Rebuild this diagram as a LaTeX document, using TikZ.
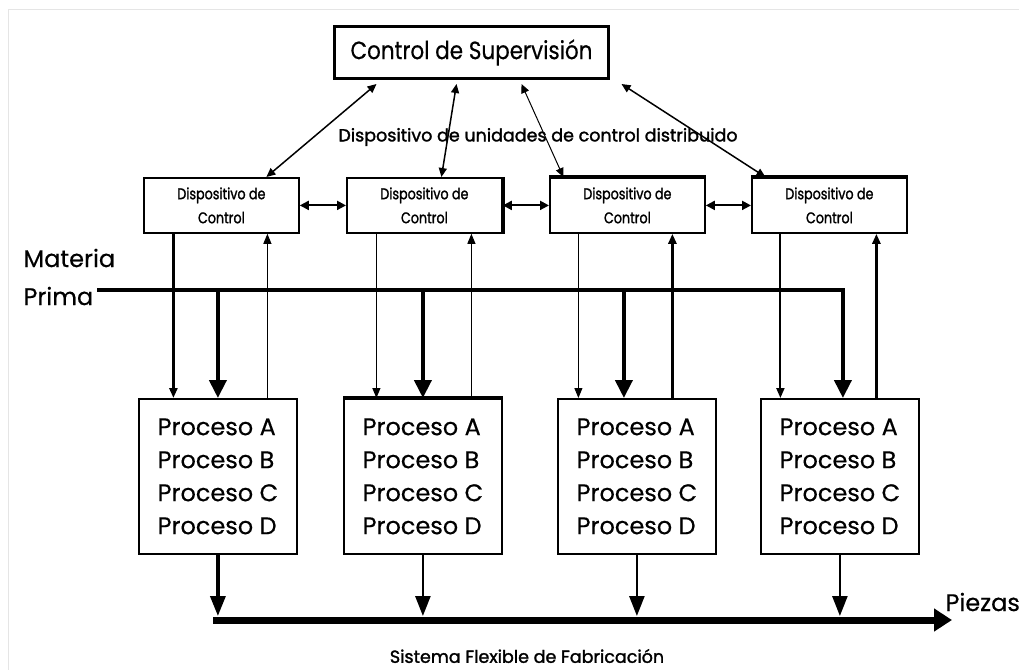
\documentclass[tikz,border=0pt]{standalone}
\usepackage{fontspec}
\setmainfont{Poppins}[FakeBold=0.4]
\newfontfamily\narrowfont{Poppins}[FakeStretch=0.86, FakeBold=0.4]
\newfontfamily\heavyfont{Poppins}[FakeBold=1.6]
\newfontfamily\narrowheavy{Poppins}[FakeStretch=0.82, FakeBold=1.4]
\usetikzlibrary{arrows.meta}

\begin{document}
\begin{tikzpicture}[
  supbox/.style={draw, line width=3pt, minimum width=274pt, minimum height=52pt,
    anchor=north west, font=\narrowfont\fontsize{25}{30}\selectfont},
  devbox/.style={draw, line width=1.8pt, minimum width=155pt, minimum height=55pt,
    anchor=north west, align=center, font=\narrowheavy\fontsize{15.5}{24}\selectfont},
  procbox/.style={draw, line width=1.8pt, minimum width=158pt, minimum height=155pt,
    anchor=north west, align=left, font=\fontsize{24}{33}\selectfont},
  biglbl/.style={anchor=west, align=left, font=\fontsize{24}{38}\selectfont},
  smalllbl/.style={font=\heavyfont\fontsize{17.5}{20}\selectfont},
  link/.style={line width=1.5pt, {Triangle[width=8pt,length=9pt]}-{Triangle[width=8pt,length=9pt]}},
  peer/.style={line width=2pt, {Triangle[width=9pt,length=9pt]}-{Triangle[width=9pt,length=9pt]}},
  sig/.style={-{Triangle[width=8pt,length=10pt]}},
  feed/.style={line width=4pt, -{Triangle[width=17pt,length=18pt]}},
  outflow/.style={line width=3.5pt, -{Triangle[width=15pt,length=20pt]}},
  mainflow/.style={line width=7pt, -{Triangle[width=22pt,length=18pt]}}
]
\useasboundingbox (0pt,0pt) rectangle (1019pt,-670pt);
\fill[white] (0pt,0pt) rectangle (1019pt,-670pt);
\draw[black!10, line width=1pt] (8pt,-670pt) -- (8pt,-9pt) -- (1019pt,-9pt);

% supervision and device boxes
\node[supbox] (sup) at (333pt,-25pt) {Control de Supervisión};
\node[smalllbl] (dud) at (538pt,-137pt) {Dispositivo de unidades de control distribuido};
\node[devbox] (d1) at (143pt,-177pt) {Dispositivo de\\Control};
\node[devbox] (d2) at (346pt,-177pt) {Dispositivo de\\Control};
\node[devbox] (d3) at (549pt,-177pt) {Dispositivo de\\Control};
\node[devbox] (d4) at (751pt,-177pt) {Dispositivo de\\Control};
\draw[line width=3.5pt] (d2.north east) -- (d2.south east);
\draw[line width=3.5pt] (d3.north west) -- (d3.north east);
\draw[line width=3.5pt] (d4.north west) -- (d4.north east);

% process boxes
\node[procbox] (p1) at (138pt,-398pt) {Proceso A\\Proceso B\\Proceso C\\Proceso D};
\node[procbox] (p2) at (343pt,-398pt) {Proceso A\\Proceso B\\Proceso C\\Proceso D};
\node[procbox] (p3) at (557pt,-398pt) {Proceso A\\Proceso B\\Proceso C\\Proceso D};
\node[procbox] (p4) at (760pt,-398pt) {Proceso A\\Proceso B\\Proceso C\\Proceso D};
\draw[line width=4pt] (p2.north west) -- (p2.north east);

\node[biglbl] (mat) at (20pt,-277pt) {Materia\\Prima};
\node[biglbl] (piezas) at (942pt,-602pt) {Piezas};
\node[smalllbl, inner sep=1pt] (sfm) at (527pt,-656pt) {Sistema Flexible de Fabricación};
\coordinate (mp) at (97pt,-290pt);
\coordinate (pz) at (213pt,-620pt);
\coordinate (pzend) at (952pt,-620pt);

% supervision links
\draw[link] ([xshift=45pt]d1.north) -- ([xshift=-95pt,yshift=-4pt]sup.south);
\draw[link] ([xshift=17pt]d2.north) -- ([xshift=-15pt,yshift=-4pt]sup.south);
\draw[link, line width=1pt] ([xshift=-64pt]d3.north) -- ([xshift=50pt,yshift=-4pt]sup.south);
\draw[link] ([xshift=-64pt]d4.north) -- ([xshift=150pt,yshift=-4pt]sup.south);

% links between devices
\draw[peer] (d1.east) -- (d2.west);
\draw[peer] (d2.east) -- (d3.west);
\draw[peer] (d3.east) -- (d4.west);

% control and feedback lines
\draw[sig, line width=3.5pt] ([xshift=-48pt]d1.south) -- ([xshift=-48pt]d1.south |- p1.north);
\draw[sig, line width=1pt] ([xshift=46pt]d1.south |- p1.north) -- ([xshift=46pt]d1.south);
\draw[sig, line width=1.2pt] ([xshift=-48pt]d2.south) -- ([xshift=-48pt]d2.south |- p2.north);
\draw[sig, line width=1pt] ([xshift=47pt]d2.south |- p2.north) -- ([xshift=47pt]d2.south);
\draw[sig, line width=1pt] ([xshift=-49pt]d3.south) -- ([xshift=-49pt]d3.south |- p3.north);
\draw[sig, line width=2.5pt] ([xshift=45pt]d3.south |- p3.north) -- ([xshift=45pt]d3.south);
\draw[sig, line width=2pt] ([xshift=-49pt]d4.south) -- ([xshift=-49pt]d4.south |- p4.north);
\draw[sig, line width=2.5pt] ([xshift=47pt]d4.south |- p4.north) -- ([xshift=47pt]d4.south);

% raw material feed
\draw[feed] (mp) -| ([xshift=3pt]p4.north);
\draw[feed] (p1.north |- mp) -- (p1.north);
\draw[feed] (p2.north |- mp) -- (p2.north);
\draw[feed] ([xshift=-13pt]p3.north |- mp) -- ([xshift=-13pt]p3.north);

% parts out
\draw[outflow] (p1.south) -- ([yshift=4pt]p1.south |- pz);
\draw[outflow, line width=2.5pt] (p2.south) -- ([yshift=4pt]p2.south |- pz);
\draw[outflow, line width=2.5pt] (p3.south) -- ([yshift=4pt]p3.south |- pz);
\draw[outflow, line width=2.5pt] (p4.south) -- ([yshift=4pt]p4.south |- pz);
\draw[mainflow] (pz) -- (pzend);
\end{tikzpicture}
\end{document}
